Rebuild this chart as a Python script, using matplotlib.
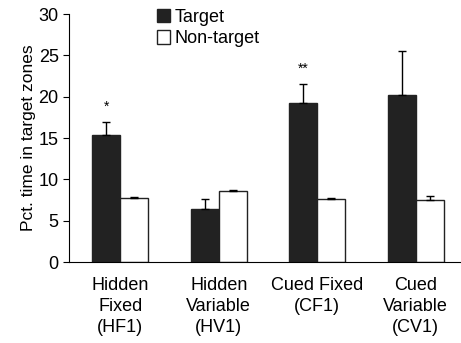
import matplotlib
matplotlib.use("Agg")
import matplotlib.pyplot as plt
import numpy as np

plt.rcParams['font.family'] = ['Liberation Sans', 'DejaVu Sans']

groups = ["Hidden\nFixed\n(HF1)", "Hidden\nVariable\n(HV1)", "Cued Fixed\n(CF1)", "Cued\nVariable\n(CV1)"]
target = [15.4, 6.4, 19.3, 20.2]
target_err = [1.5, 1.2, 2.2, 5.3]
nontarget = [7.8, 8.6, 7.6, 7.5]
nontarget_err = [0.1, 0.1, 0.15, 0.5]
marks = ["*", "", "**", ""]

fig = plt.figure(figsize=(4.61, 3.43), dpi=100)
ax = fig.add_axes([0.150, 0.236, 0.85, 0.723])

x = np.arange(len(groups))
w = 0.285
ax.bar(x - w / 2, target, w, color="#222222", edgecolor="#222222", label="Target",
       yerr=[np.zeros(4), target_err], capsize=3, error_kw=dict(lw=1, capthick=1))
ax.bar(x + w / 2, nontarget, w, color="white", edgecolor="#222222", linewidth=1, label="Non-target",
       yerr=[np.zeros(4), nontarget_err], capsize=3, error_kw=dict(lw=1, capthick=1))

for xi, t, e, m in zip(x, target, target_err, marks):
    if m:
        ax.text(xi - w / 2, t + e + 1.0, m, ha="center", va="bottom", fontsize=10)

ax.set_xlim(-0.52, 3.46)
ax.set_ylim(0, 30)
ax.set_yticks([0, 5, 10, 15, 20, 25, 30])
ax.set_xticks(x)
ax.set_xticklabels(groups, fontsize=13, linespacing=1.3)
ax.tick_params(axis="x", length=0, pad=11)
ax.tick_params(axis="y", direction="out", length=4, labelsize=13)
ax.set_ylabel("Pct. time in target zones", fontsize=12.5, labelpad=2)
for s in ["top", "right"]:
    ax.spines[s].set_visible(False)

ax.legend(loc="upper left", bbox_to_anchor=(0.205, 1.05), frameon=False, fontsize=13,
          handlelength=0.75, handleheight=0.75, handletextpad=0.25, labelspacing=0.25,
          borderaxespad=0)

fig.savefig("out.png", dpi=100)
